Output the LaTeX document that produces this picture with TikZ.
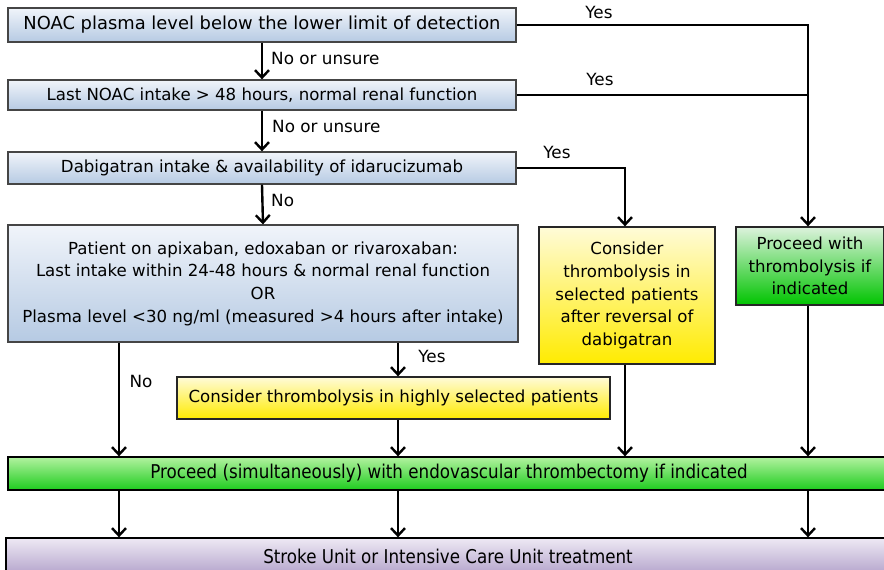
\documentclass[tikz,border=0pt]{standalone}
\usepackage{fontspec}
\setmainfont{DejaVu Sans}
\newfontfamily\barfont[FakeStretch=0.88]{DejaVu Sans}
\usetikzlibrary{arrows.meta}

\definecolor{blueTop}{HTML}{F0F4FA}
\definecolor{blueBot}{HTML}{B6CAE3}
\definecolor{yelTop}{HTML}{FFFBD8}
\definecolor{yelBot}{HTML}{FFEB00}
\definecolor{grnTop}{HTML}{DDF2DD}
\definecolor{grnBot}{HTML}{00C400}
\definecolor{barTop}{HTML}{B2F2A0}
\definecolor{barBot}{HTML}{1ECC1E}
\definecolor{purTop}{HTML}{EEE9F4}
\definecolor{purBot}{HTML}{B3A3CB}
\definecolor{edge}{HTML}{454545}

\tikzset{
  box/.style={draw=edge, line width=1.3pt, align=center, inner sep=2pt,
    font=\fontsize{16.6}{22.7}\selectfont},
  bluebox/.style={box, top color=blueTop, bottom color=blueBot},
  yelbox/.style={box, draw=black!85, top color=yelTop, bottom color=yelBot},
  grnbox/.style={box, draw=black!85, top color=grnTop, bottom color=grnBot},
  greenbar/.style={box, draw=black, top color=barTop, bottom color=barBot,
    font=\barfont\fontsize{19}{22}\selectfont},
  purplebar/.style={box, draw=black, top color=purTop, bottom color=purBot,
    font=\barfont\fontsize{19}{22}\selectfont},
  arr/.style={line width=2.4pt, -{Straight Barb[length=7.5pt,width=14pt,line width=2.4pt]}},
  link/.style={line width=2.4pt},
  lbl/.style={font=\fontsize{16.8}{20}\selectfont, inner sep=0pt},
}

\begin{document}
\begin{tikzpicture}[x=1pt,y=-1pt]
\clip (0,0) rectangle (884,570);
\fill[white] (0,0) rectangle (884,570);

% column positions of the vertical connectors
\coordinate (xl) at (119,0);
\coordinate (xa) at (398,0);
\coordinate (xm) at (625,0);
\coordinate (xr) at (808,0);

% decision boxes
\node[bluebox, minimum width=508pt, minimum height=34pt, font=\fontsize{17.9}{22}\selectfont] (q1) at (262,25)
  {NOAC plasma level below the lower limit of detection};
\node[bluebox, minimum width=508pt, minimum height=30pt] (q2) at (262,95)
  {Last NOAC intake > 48 hours, normal renal function};
\node[bluebox, minimum width=508pt, minimum height=32pt] (q3) at (262,168)
  {Dabigatran intake \& availability of idarucizumab};
\node[bluebox, minimum width=510pt, minimum height=117pt] (q4) at (263,283.5)
  {Patient on apixaban, edoxaban or rivaroxaban:\\
   Last intake within 24-48 hours \& normal renal function\\
   OR\\
   Plasma level <30 ng/ml (measured >4 hours after intake)};

% outcome boxes
\node[yelbox, minimum width=433pt, minimum height=42pt] (ys) at (393.5,398)
  {Consider thrombolysis in highly selected patients};
\node[yelbox, minimum width=176pt, minimum height=137pt] (yt) at (627,295.5)
  {Consider\\thrombolysis in\\selected patients\\after reversal of\\dabigatran};
\node[grnbox, minimum width=148pt, minimum height=78pt] (gt) at (810,266)
  {Proceed with\\thrombolysis if\\indicated};

% full-width bars
\node[greenbar, minimum width=882pt, minimum height=33pt] (gb) at (449,473.5)
  {Proceed (simultaneously) with endovascular thrombectomy if indicated};
\node[purplebar, minimum width=884pt, minimum height=37pt] (pb) at (448,556.5)
  {Stroke Unit or Intensive Care Unit treatment};

% main "no" chain
\draw[arr] (q1.south) -- (q2.north);
\draw[arr] (q2.south) -- (q3.north);
\draw[arr] (q3.south) -- (q4.north);
\node[lbl, anchor=west] at (271,58) {No or unsure};
\node[lbl, anchor=west] at (272,126) {No or unsure};
\node[lbl, anchor=west] at (271,200) {No};

% "yes" branches to the right
\draw[arr] (q1.east) -| (xr |- gt.north);
\draw[link] (q2.east) -- (q2.east -| xr);
\draw[arr] (q3.east) -| (xm |- yt.north);
\node[lbl] at (599,12) {Yes};
\node[lbl] at (600,79) {Yes};
\node[lbl] at (557,152) {Yes};

% branches out of the last decision
\draw[arr] (xa |- q4.south) -- (xa |- ys.north);
\node[lbl] at (432,356) {Yes};
\draw[arr] (xl |- q4.south) -- (xl |- gb.north);
\node[lbl] at (141,381) {No};

% into the thrombectomy bar
\draw[arr] (xa |- ys.south) -- (xa |- gb.north);
\draw[arr] (xm |- yt.south) -- (xm |- gb.north);
\draw[arr] (xr |- gt.south) -- (xr |- gb.north);

% into the care unit bar
\draw[arr] (xl |- gb.south) -- (xl |- pb.north);
\draw[arr] (xa |- gb.south) -- (xa |- pb.north);
\draw[arr] (xr |- gb.south) -- (xr |- pb.north);
\end{tikzpicture}
\end{document}
